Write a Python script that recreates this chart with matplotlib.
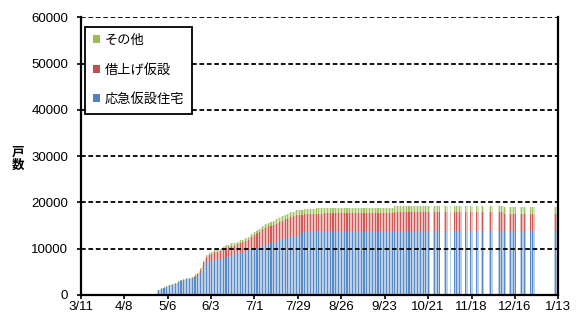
import matplotlib
matplotlib.use("Agg")
import matplotlib.pyplot as plt
from matplotlib.patches import Patch
import pandas as pd

plt.rcParams['font.family'] = ['Liberation Sans', 'Noto Sans CJK JP']

# ---------------- data ----------------
start_date = pd.Timestamp('2011-03-11')
end_date = pd.Timestamp('2012-01-13')
tick_labels = ['3/11', '4/8', '5/6', '6/3', '7/1', '7/29', '8/26',
               '9/23', '10/21', '11/18', '12/16', '1/13']
tick_dates = ['2011-03-11', '2011-04-08', '2011-05-06', '2011-06-03', '2011-07-01',
              '2011-07-29', '2011-08-26', '2011-09-23', '2011-10-21', '2011-11-18',
              '2011-12-16', '2012-01-13']

series_names = ['応急仮設住宅', '借上げ仮設', 'その他']

# daily reports 2011-04-29 .. 2011-10-21
daily_dates = list(pd.date_range('2011-04-29', '2011-10-21', freq='D'))
# later reports (working days only)
later_dates = ['2011-10-24', '2011-10-25', '2011-10-26', '2011-10-27', '2011-10-28',
               '2011-10-31', '2011-11-01', '2011-11-02', '2011-11-04',
               '2011-11-07', '2011-11-08', '2011-11-09', '2011-11-10', '2011-11-11',
               '2011-11-14', '2011-11-15', '2011-11-17', '2011-11-18',
               '2011-11-21', '2011-11-22', '2011-11-24', '2011-11-25',
               '2011-11-29', '2011-11-30', '2011-12-01',
               '2011-12-05', '2011-12-06', '2011-12-07', '2011-12-08', '2011-12-09',
               '2011-12-12', '2011-12-13', '2011-12-14', '2011-12-15', '2011-12-16',
               '2011-12-19', '2011-12-20', '2011-12-21', '2011-12-22',
               '2011-12-26', '2011-12-27', '2011-12-28',
               '2012-01-10', '2012-01-11']

blue_daily = [
    900, 1000, 1150, 1250, 1400, 1550, 1750,
    1900, 2000, 2050, 2200, 2300, 2400, 2550,
    2700, 2900, 3000, 3100, 3200, 3300, 3300,
    3400, 3500, 3600, 3700, 3900, 4100, 4400,
    4700, 5100, 5900, 6500, 7000, 7100, 7200,
    7400, 7400, 7500, 7500, 7600, 7600, 7700,
    7800, 7900, 8000, 8100, 8200, 8300, 8500,
    8700, 8900, 8900, 9000, 9000, 9100, 9100,
    9200, 9300, 9500, 9700, 9700, 9800, 9900,
    10000, 10100, 10200, 10300, 10500, 10600, 10700,
    10800, 10900, 11000, 11100, 11200, 11300, 11400,
    11500, 11600, 11800, 11900, 12000, 12200, 12300,
    12400, 12400, 12500, 12500, 12500, 12500, 12600,
    12800, 13000, 13200, 13400, 13500, 13600, 13600,
    13700, 13700, 13700, 13700, 13700, 13700, 13700,
    13700, 13700, 13700, 13700, 13700, 13700, 13700,
    13700, 13700, 13700, 13700, 13700, 13700, 13700,
    13700, 13700, 13700, 13700, 13700, 13700, 13700,
    13700, 13700, 13700, 13700, 13700, 13700, 13700,
    13700, 13700, 13700, 13700, 13700, 13700, 13700,
    13700, 13700, 13700, 13700, 13700, 13700, 13700,
    13700, 13700, 13700, 13700, 13700, 13700, 13700,
    13700, 13700, 13700, 13700, 13700, 13700, 13700,
    13700, 13700, 13700, 13700, 13700, 13700, 13700,
    13700, 13700, 13700, 13700, 13700, 13700, 13700,
    13700,
]
red_daily = [
    0, 0, 0, 0, 0, 0, 0,
    0, 0, 0, 0, 0, 0, 0,
    0, 0, 0, 0, 0, 0, 0,
    0, 0, 0, 100, 200, 400, 500,
    750, 950, 1150, 1150, 1200, 1300, 1400,
    1500, 1600, 1700, 1750, 1750, 1850, 1850,
    1900, 2000, 2000, 2100, 2100, 2200, 2100,
    1950, 1750, 1850, 1950, 2150, 2150, 2250,
    2200, 2300, 2200, 2100, 2650, 2650, 2750,
    2850, 3000, 3100, 3300, 3350, 3550, 3650,
    3700, 3700, 3800, 3750, 3750, 3850, 3850,
    3900, 4000, 3950, 4050, 4000, 4000, 4000,
    4050, 4150, 4250, 4350, 4450, 4550, 4650,
    4400, 4300, 4100, 3900, 3900, 3800, 3800,
    3700, 3800, 3750, 3750, 3750, 3850, 3850,
    3850, 3850, 3850, 3900, 3900, 3900, 3900,
    3900, 3900, 3900, 3900, 3900, 3900, 3900,
    3900, 3900, 3900, 3900, 3900, 3900, 3900,
    3900, 3900, 3900, 3900, 3900, 3900, 3900,
    3900, 3900, 3900, 3900, 3900, 3900, 3900,
    3900, 3900, 3900, 3900, 3900, 3900, 3900,
    3900, 3900, 3900, 3900, 3900, 3900, 4100,
    4100, 4100, 4100, 4100, 4100, 4100, 4100,
    4100, 4100, 4100, 4100, 4100, 4100, 4100,
    4100, 4100, 4100, 4100, 4100, 4100, 4100,
    4100,
]
green_daily = [
    100, 100, 100, 100, 100, 150, 150,
    150, 150, 200, 200, 200, 200, 250,
    250, 250, 250, 250, 250, 250, 250,
    300, 300, 300, 300, 300, 300, 300,
    350, 350, 350, 350, 400, 400, 400,
    400, 400, 400, 450, 450, 450, 450,
    500, 500, 500, 500, 500, 500, 500,
    550, 550, 550, 550, 550, 550, 550,
    600, 600, 600, 600, 650, 650, 650,
    650, 700, 700, 700, 750, 750, 750,
    800, 800, 800, 850, 850, 850, 850,
    900, 900, 950, 950, 1000, 1000, 1000,
    1050, 1050, 1050, 1050, 1050, 1050, 1050,
    1100, 1100, 1100, 1100, 1100, 1100, 1100,
    1100, 1100, 1150, 1150, 1150, 1150, 1150,
    1150, 1150, 1150, 1200, 1200, 1200, 1200,
    1200, 1200, 1200, 1200, 1200, 1200, 1200,
    1200, 1200, 1200, 1200, 1200, 1200, 1200,
    1200, 1200, 1200, 1200, 1200, 1200, 1200,
    1200, 1200, 1200, 1200, 1200, 1200, 1200,
    1200, 1200, 1200, 1200, 1200, 1200, 1200,
    1200, 1200, 1200, 1200, 1200, 1200, 1400,
    1400, 1400, 1400, 1400, 1400, 1400, 1400,
    1400, 1400, 1400, 1400, 1400, 1400, 1400,
    1400, 1400, 1400, 1400, 1400, 1400, 1400,
    1400,
]

blue_later = [13700] * 29 + [13700] * 15
red_later = [4100] * 29 + [3800] * 15
green_later = [1400] * 29 + [1400] * 15

dates = daily_dates + [pd.Timestamp(d) for d in later_dates]
blue = blue_daily + blue_later
red = red_daily + red_later
green = green_daily + green_later

# ---------------- plot ----------------
x = [(d - start_date).days + 0.5 for d in dates]
xmax = (end_date - start_date).days

fig = plt.figure(figsize=(5.78, 3.17), dpi=100)
ax = fig.add_axes([0.1396, 0.0703, 0.966 - 0.1396, 0.9448 - 0.0703])

colors = [('#BACEE8', '#5A8AC6'), ('#EDBDBC', '#CC5C59'), ('#D8E6BC', '#A3C266')]
bottoms = [0] * len(x)
for vals, (light, dark) in zip([blue, red, green], colors):
    ax.bar(x, vals, width=1.0, bottom=bottoms, color=light, linewidth=0, zorder=1)
    ax.bar([xi - 0.3 for xi in x], vals, width=0.4, bottom=bottoms, color=dark,
           linewidth=0, zorder=1.1)
    bottoms = [b + v for b, v in zip(bottoms, vals)]

ax.set_xlim(0, xmax)
ax.set_ylim(0, 60000)
ax.set_yticks(range(0, 60001, 10000))
ax.set_xticks([(pd.Timestamp(d) - start_date).days for d in tick_dates])
ax.set_xticklabels(tick_labels)

ax.set_axisbelow(False)
ax.yaxis.grid(True, color='black', linewidth=1.3, linestyle=(0, (2.6, 1.5)))
ax.xaxis.grid(False)

for side in ['left', 'bottom', 'right']:
    ax.spines[side].set_linewidth(1.6)
    ax.spines[side].set_color('black')
ax.spines['top'].set_visible(False)

ax.tick_params(axis='y', direction='out', length=3, width=1.2, pad=6, labelsize=9.5)
ax.tick_params(axis='x', direction='out', length=3, width=1.2, pad=1.5, labelsize=9.5)

fig.text(18 / 578, 0.498, '戸\n数', fontsize=9, fontweight='bold',
         ha='center', va='center', linespacing=1.05)

handles = [Patch(facecolor='#9BBB59', edgecolor='none'),
           Patch(facecolor='#C0504D', edgecolor='none'),
           Patch(facecolor='#4F81BD', edgecolor='none')]
leg = ax.legend(handles, [series_names[2], series_names[1], series_names[0]],
                loc='upper left', bbox_to_anchor=(0.009, 0.966), borderaxespad=0,
                frameon=True, fancybox=False, edgecolor='black', framealpha=1,
                handlelength=0.55, handleheight=0.55, handletextpad=0.35,
                labelspacing=1.25, borderpad=0.6, fontsize=9.5)
leg.get_frame().set_linewidth(1.3)
leg.set_zorder(5)

fig.savefig('out.png', dpi=100)
